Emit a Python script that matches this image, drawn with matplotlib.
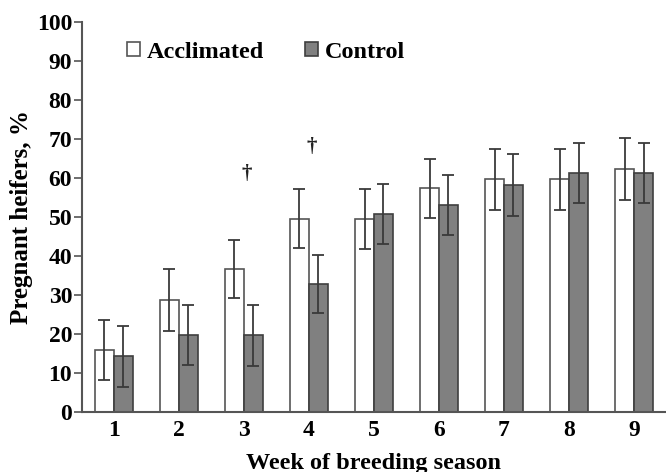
import numpy as np
import matplotlib.pyplot as plt

weeks = [1, 2, 3, 4, 5, 6, 7, 8, 9]
acclimated = [15.9, 28.7, 36.7, 49.6, 49.6, 57.4, 59.7, 59.7, 62.4]
acclimated_err = [7.7, 8.0, 7.5, 7.5, 7.7, 7.5, 7.8, 7.8, 7.9]
control = [14.3, 19.7, 19.7, 32.8, 50.8, 53.1, 58.2, 61.3, 61.3]
control_err = [7.8, 7.7, 7.8, 7.4, 7.8, 7.7, 7.9, 7.8, 7.8]
dagger_weeks = [3, 4]
dagger_y = [61, 68]

plt.rcParams['font.family'] = 'Liberation Serif'
plt.rcParams['font.weight'] = 'bold'

fig = plt.figure(figsize=(6.66, 4.72), dpi=100)
ax = fig.add_axes([0.123, 0.127, 0.877, 0.826])

x = np.array(weeks)
w = 0.29
ekw = dict(ecolor='#3a3a3a', elinewidth=1.3, capsize=4, capthick=1.3)
ax.bar(x - w / 2, acclimated, w, color='white', edgecolor='#555555', linewidth=1.2,
       yerr=acclimated_err, error_kw=ekw, label='Acclimated')
ax.bar(x + w / 2, control, w, color='#808080', edgecolor='#3f3f3f', linewidth=1.2,
       yerr=control_err, error_kw=ekw, label='Control')

for wk, yy in zip(dagger_weeks, dagger_y):
    ax.text(wk + 0.04, yy, '\u2020', ha='center', va='center', fontsize=15, color='#222222')

ax.set_xlim(0.51, 9.49)
ax.set_ylim(0, 100)
ax.set_yticks(range(0, 101, 10))
ax.set_xticks(weeks)
ax.tick_params(axis='y', direction='out', length=6, width=1.2, color='#555555', labelsize=17, pad=1)
ax.tick_params(axis='x', length=0, labelsize=17, pad=6)
for s in ['top', 'right']:
    ax.spines[s].set_visible(False)
for s in ['left', 'bottom']:
    ax.spines[s].set_color('#555555')
    ax.spines[s].set_linewidth(1.5)

ax.set_ylabel('Pregnant heifers, %', fontsize=18, fontweight='bold', labelpad=3)
ax.set_xlabel('Week of breeding season', fontsize=17.5, fontweight='bold', labelpad=8)

leg = ax.legend(loc='center left', bbox_to_anchor=(0.078, 0.923), ncol=2, frameon=False,
                fontsize=17.5, handlelength=0.5, handleheight=0.5, handletextpad=0.3,
                columnspacing=1.7, borderpad=0, borderaxespad=0)

fig.savefig('out.png', dpi=100)
